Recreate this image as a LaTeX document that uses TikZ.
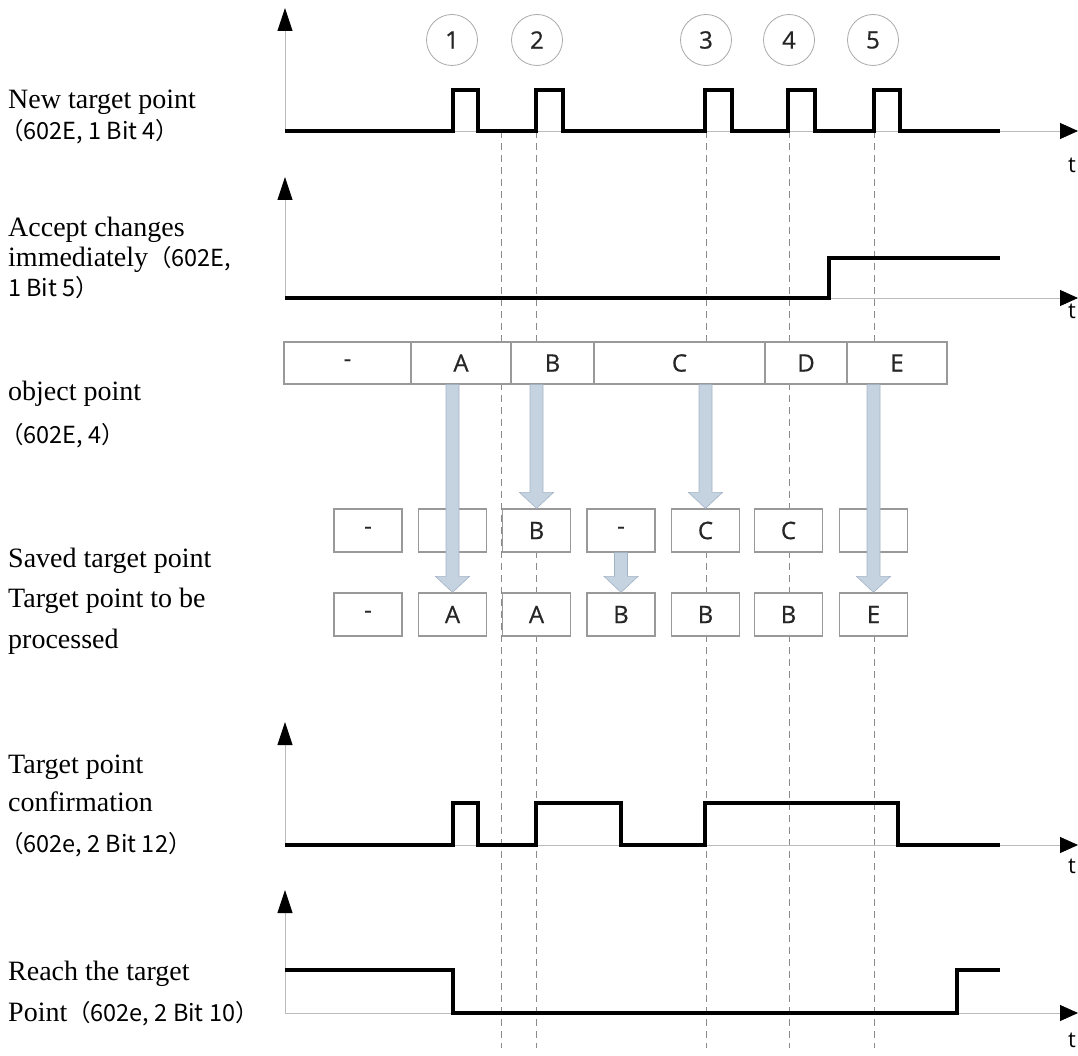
\documentclass[tikz,border=0pt]{standalone}
\usepackage{fontspec}
\setmainfont{Liberation Serif}
\newfontfamily\cjk{Noto Sans CJK SC}
\newfontfamily\boxsans[FakeBold=0.6]{Open Sans}
\newfontfamily\tsans{Open Sans}
\usetikzlibrary{arrows.meta,calc}
\definecolor{axgray}{HTML}{BBBBBB}
\definecolor{dashgray}{HTML}{8A8A8A}
\definecolor{boxgray}{HTML}{999999}
\definecolor{arrfill}{HTML}{C5D2E0}
\definecolor{arrline}{HTML}{A3B3C6}
\definecolor{circgray}{HTML}{AAAAAA}
\definecolor{txtgray}{HTML}{262626}
\newcommand\cj[1]{{\cjk\fontsize{23.5}{28}\selectfont #1}}
\newcommand\fatarr[2]{%
  \filldraw[bigarrow] let \p1=(#2.north), \p2=(#1.south) in
    (\x1-6.5pt,\y2) -- (\x1+6.5pt,\y2) -- (\x1+6.5pt,\y1+16pt) -- (\x1+17pt,\y1+16pt)
    -- (\x1,\y1) -- (\x1-17pt,\y1+16pt) -- (\x1-6.5pt,\y1+16pt) -- cycle;}
\begin{document}
\begin{tikzpicture}[x=1pt,y=-1pt,
  sig/.style={line width=3.2pt,black,line join=miter},
  axis/.style={axgray,line width=0.9pt},
  vtip/.style={-{Triangle[length=23pt,width=15pt,color=black]}},
  guide/.style={dashgray,line width=1pt,dash pattern=on 7pt off 5pt},
  cell/.style={draw=boxgray,fill=white,line width=1.2pt,inner sep=0pt,
    font=\boxsans\fontsize{24}{28}\selectfont,text=txtgray},
  sbox/.style={cell,minimum width=68pt,minimum height=43pt},
  bigarrow/.style={fill=arrfill,draw=arrline,line width=0.6pt},
  circ/.style={circle,draw=circgray,line width=0.8pt,minimum size=51pt,inner sep=0pt,
    font=\boxsans\fontsize{24}{28}\selectfont,text=txtgray},
  lbl/.style={anchor=base west,inner sep=0pt,font=\fontsize{28}{34}\selectfont},
  tl/.style={font=\tsans\fontsize{22}{26}\selectfont,inner sep=0pt}]
\useasboundingbox (0,0) rectangle (1078,1056);
\fill[white] (0,0) rectangle (1078,1056);

% dashed guide lines
\foreach \gx in {501,536,706,789,874}
  \draw[guide] (\gx,131) -- (\gx,1048);

% axes
\foreach \oy/\ty in {131/8,298/177,845/722,1013/890}{
  \draw[axis,vtip] (285,\oy) -- (285,\ty);
  \draw[axis,-{Triangle[length=18pt,width=16pt,color=black]}] (285,\oy) -- (1078,\oy);
}
\node[tl] (t1) at (1072,165) {t};
\node[tl] (t2) at (1072,311) {t};
\node[tl] (t3) at (1072,866) {t};
\node[tl] (t4) at (1072,1040) {t};

% circles
\node[circ] (c1) at (452,40) {1};
\node[circ] (c2) at (537,40) {2};
\node[circ] (c3) at (706,40) {3};
\node[circ] (c4) at (789,40) {4};
\node[circ] (c5) at (873,40) {5};

% signal 1
\draw[sig] (285,131) -- (453,131) -- (453,90) -- (478,90) -- (478,131)
  -- (536,131) -- (536,90) -- (563,90) -- (563,131)
  -- (705,131) -- (705,90) -- (732,90) -- (732,131)
  -- (788,131) -- (788,90) -- (815,90) -- (815,131)
  -- (874,131) -- (874,90) -- (900,90) -- (900,131) -- (1000,131);
% signal 2
\draw[sig] (285,298) -- (829,298) -- (829,258) -- (1000,258);
% signal 3
\draw[sig] (285,845) -- (453,845) -- (453,803) -- (478,803) -- (478,845)
  -- (536,845) -- (536,803) -- (621,803) -- (621,845)
  -- (705,845) -- (705,803) -- (898,803) -- (898,845) -- (1000,845);
% signal 4
\draw[sig] (285,970) -- (453,970) -- (453,1013) -- (957,1013) -- (957,970) -- (1000,970);

% object point row
\node[cell,minimum width=127pt,minimum height=42pt] (o0) at (347.5,363) {-};
\node[cell,minimum width=100pt,minimum height=42pt] (oA) at (461,363) {A};
\node[cell,minimum width=83pt,minimum height=42pt] (oB) at (552.5,363) {B};
\node[cell,minimum width=171pt,minimum height=42pt] (oC) at (679.5,363) {C};
\node[cell,minimum width=82pt,minimum height=42pt] (oD) at (806,363) {D};
\node[cell,minimum width=100pt,minimum height=42pt] (oE) at (897,363) {E};

% saved target point row
\node[sbox] (s1) at (368,530.5) {-};
\node[sbox] (s2) at (452.5,530.5) {};
\node[sbox] (s3) at (536.5,530.5) {B};
\node[sbox] (s4) at (621,530.5) {-};
\node[sbox] (s5) at (705.5,530.5) {C};
\node[sbox] (s6) at (788.5,530.5) {C};
\node[sbox] (s7) at (873.5,530.5) {};

% target point to be processed row
\node[sbox] (p1) at (368,614.5) {-};
\node[sbox] (p2) at (452.5,614.5) {A};
\node[sbox] (p3) at (536.5,614.5) {A};
\node[sbox] (p4) at (621,614.5) {B};
\node[sbox] (p5) at (705.5,614.5) {B};
\node[sbox] (p6) at (788.5,614.5) {B};
\node[sbox] (p7) at (873.5,614.5) {E};

% transfer arrows
\fatarr{oA}{p2}
\fatarr{oB}{s3}
\fatarr{oC}{s5}
\fatarr{oE}{p7}
\fatarr{s4}{p4}

% labels
\node[lbl] (L1a) at (8,109) {New target point};
\node[lbl] (L1b) at (0,140) {\cj{（602E, 1 Bit 4）}};
\node[lbl] (L2a) at (8,237) {Accept changes};
\node[lbl] (L2b) at (8,267) {immediately\cj{（602E,}};
\node[lbl] (L2c) at (8,297) {\cj{1 Bit 5）}};
\node[lbl] (L3a) at (8,400) {object point};
\node[lbl] (L3b) at (0,443) {\cj{（602E, 4）}};
\node[lbl] (L4a) at (8,567) {Saved target point};
\node[lbl] (L4b) at (8,607) {Target point to be};
\node[lbl] (L4c) at (8,648) {processed};
\node[lbl] (L5a) at (8,773) {Target point};
\node[lbl] (L5b) at (8,811) {confirmation};
\node[lbl] (L5c) at (0,852) {\cj{（602e, 2 Bit 12）}};
\node[lbl] (L6a) at (8,980) {Reach the target};
\node[lbl] (L6b) at (8,1021) {Point\cj{（602e, 2 Bit 10）}};
\end{tikzpicture}
\end{document}
